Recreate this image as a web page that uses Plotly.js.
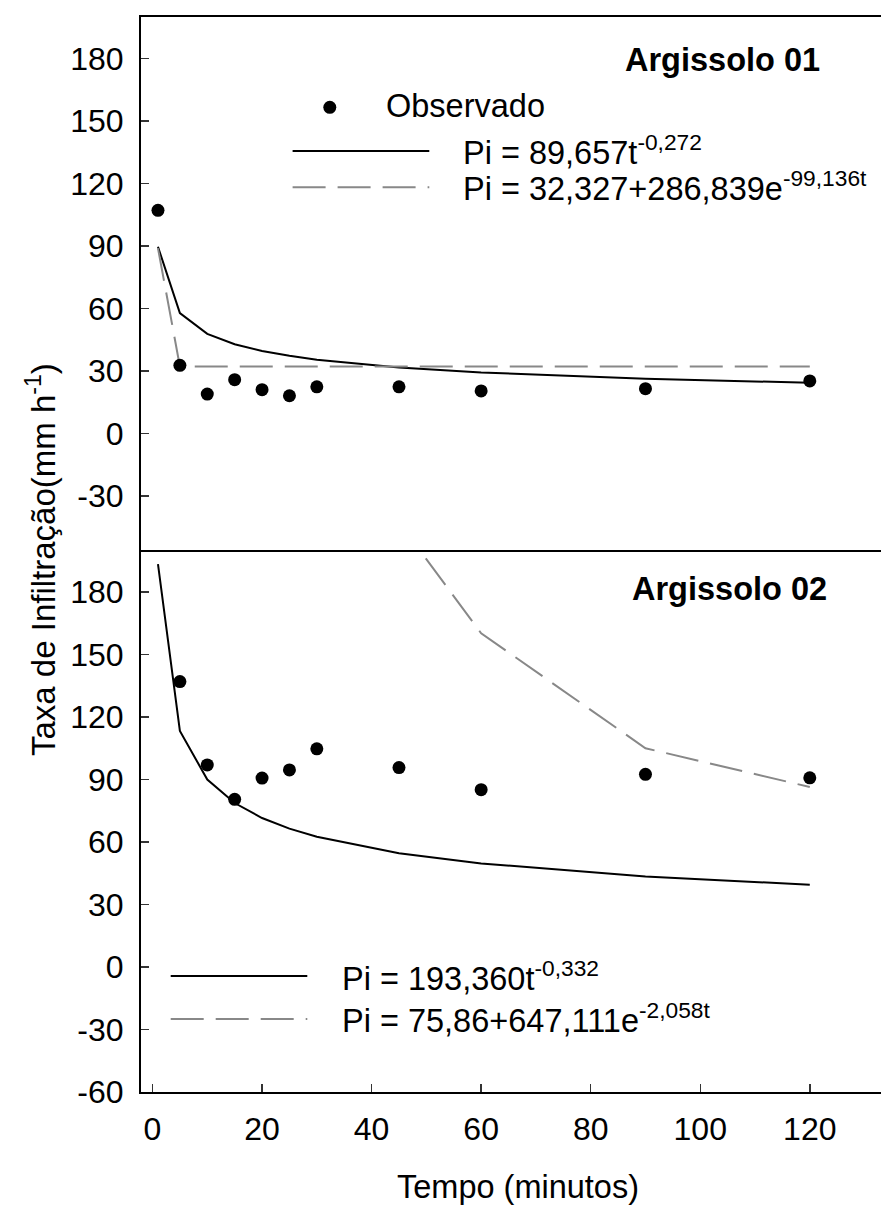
<!DOCTYPE html>
<html><head><meta charset="utf-8">
<script src="https://cdn.plot.ly/plotly-3.0.1.min.js"></script>
<style>html,body{margin:0;padding:0;background:#fff}</style>
</head><body><div id="chart" style="width:881px;height:1208px"></div>
<script>
// ---- data ----
const tempo = [1, 5, 10, 15, 20, 25, 30, 45, 60, 90, 120];
// Argissolo 01
const obs01 = [107.2, 32.8, 19.0, 25.9, 21.1, 18.2, 22.5, 22.5, 20.5, 21.6, 25.3];
const pot01 = [89.7, 57.9, 47.9, 42.9, 39.7, 37.4, 35.5, 31.8, 29.4, 26.4, 24.4];
const exp01 = [89.0, 32.3, 32.3, 32.3, 32.3, 32.3, 32.3, 32.3, 32.3, 32.3, 32.3];
// Argissolo 02
const tempoObs02 = [5, 10, 15, 20, 25, 30, 45, 60, 90, 120];
const obs02 = [137.0, 97.0, 80.5, 90.7, 94.6, 104.7, 95.7, 85.1, 92.5, 90.8];
const pot02 = [193.4, 113.3, 90.0, 78.7, 71.5, 66.4, 62.5, 54.6, 49.7, 43.4, 39.5];
const tempoExp02 = [45, 60, 90, 120];
const exp02 = [213.5, 160.2, 105.0, 86.4];
// ticks
const xTicks = [0, 20, 40, 60, 80, 100, 120];
const yTicks01 = [-30, 0, 30, 60, 90, 120, 150, 180];
const yTicks02 = [-60, -30, 0, 30, 60, 90, 120, 150, 180];
const yText01 = ['-30', '0', '30', '60', '90', '120', '150', '180'];
const yText02 = ['-60', '-30', '0', '30', '60', '90', '120', '150', '180'];
// texts
const panel01 = 'Argissolo 01';
const panel02 = 'Argissolo 02';
const legObs = 'Observado';
const eqPot01 = 'Pi = 89,657t<sup>-0,272</sup>';
const eqExp01 = 'Pi = 32,327+286,839e<sup>-99,136t</sup>';
const eqPot02 = 'Pi = 193,360t<sup>-0,332</sup>';
const eqExp02 = 'Pi = 75,86+647,111e<sup>-2,058t</sup>';
const yTitle = 'Taxa de Infiltração(mm h<sup>-1</sup>)';
const xTitle = 'Tempo (minutos)';

// ---- layout geometry ----
const W = 881, H = 1208, ML = 141, MR = 0, MT = 17, MB = 116;
const PW = W - ML - MR, PH = H - MT - MB;
const px = v => (v - ML) / PW;
const py = v => (H - MB - v) / PH;
const split = 260 / 516;
const FS = 32.5;
const FONT = '"Liberation Sans", Arial, Helvetica, sans-serif';
const BLACK = '#000000', GRAY = '#888888';
const DASH = '33px,12px';

const traces = [
  {x: tempo, y: pot01, xaxis: 'x2', yaxis: 'y2', mode: 'lines', line: {color: BLACK, width: 2}},
  {x: tempo, y: exp01, xaxis: 'x2', yaxis: 'y2', mode: 'lines', line: {color: GRAY, width: 2, dash: DASH}},
  {x: tempo, y: obs01, xaxis: 'x2', yaxis: 'y2', mode: 'markers', marker: {color: BLACK, size: 13}},
  {x: tempo, y: pot02, xaxis: 'x', yaxis: 'y', mode: 'lines', line: {color: BLACK, width: 2}},
  {x: tempoExp02, y: exp02, xaxis: 'x', yaxis: 'y', mode: 'lines', line: {color: GRAY, width: 2, dash: DASH}},
  {x: tempoObs02, y: obs02, xaxis: 'x', yaxis: 'y', mode: 'markers', marker: {color: BLACK, size: 13}}
];

const xr = [-2.1, 133.0];
const yAxisCommon = {
  tickmode: 'array', ticks: 'inside', ticklen: 8, tickwidth: 1.5, tickcolor: '#333',
  showline: true, linecolor: BLACK, linewidth: 2, showgrid: false, zeroline: false,
  tickfont: {size: 32, family: FONT, color: BLACK}, ticklabelstandoff: 9
};

function ann(text, left, baseline, extra) {
  return Object.assign({
    text: text, xref: 'paper', yref: 'paper', x: px(left - 3), y: py(baseline + 0.212 * FS + 2),
    xanchor: 'left', yanchor: 'bottom', showarrow: false,
    font: {size: FS, family: FONT, color: BLACK}
  }, extra || {});
}

const annotations = [
  ann('<b>' + panel01 + '</b>', 626, 70.7),
  ann(legObs, 387, 117),
  ann(eqPot01, 463.7, 164),
  ann(eqExp01, 463.7, 200),
  ann('<b>' + panel02 + '</b>', 633, 600),
  ann(eqPot02, 343, 990),
  ann(eqExp02, 343, 1031.7),
  {text: yTitle, xref: 'paper', yref: 'paper', x: px(41), y: py(560), xanchor: 'center', yanchor: 'middle',
   textangle: -90, showarrow: false, font: {size: 33, family: FONT, color: BLACK}},
  {text: xTitle, xref: 'paper', yref: 'paper', x: px(518), y: py(1187), xanchor: 'center', yanchor: 'middle',
   showarrow: false, font: {size: FS, family: FONT, color: BLACK}}
];

function hline(x0, x1, y, color, dash) {
  return {type: 'line', xref: 'paper', yref: 'paper', x0: px(x0), x1: px(x1), y0: py(y), y1: py(y),
          line: {color: color, width: 2, dash: dash || 'solid'}};
}
const r = 6.5;
const shapes = [
  {type: 'circle', xref: 'paper', yref: 'paper', x0: px(329.8 - r), x1: px(329.8 + r), y0: py(107.3 + r), y1: py(107.3 - r),
   fillcolor: BLACK, line: {width: 0}},
  hline(292.6, 429.3, 151, BLACK),
  hline(292.6, 429.3, 187.3, GRAY, DASH),
  hline(170.7, 307.3, 976, BLACK),
  hline(170.7, 307.3, 1019, GRAY, DASH)
];

const layout = {
  width: W, height: H,
  margin: {l: ML, r: MR, t: MT, b: MB, pad: 0},
  paper_bgcolor: '#ffffff', plot_bgcolor: '#ffffff',
  showlegend: false,
  font: {family: FONT, size: FS, color: BLACK},
  xaxis: {anchor: 'y', domain: [0, 1], range: xr, tickmode: 'array', tickvals: xTicks,
          ticks: 'inside', ticklen: 8, tickwidth: 1.5, tickcolor: '#333',
          showline: true, linecolor: BLACK, linewidth: 2, showgrid: false, zeroline: false,
          tickfont: {size: 32, family: FONT, color: BLACK}, ticklabelstandoff: 8},
  xaxis2: {anchor: 'y2', domain: [0, 1], range: xr, showline: true, mirror: true,
           linecolor: BLACK, linewidth: 2, ticks: '', showticklabels: false, showgrid: false, zeroline: false},
  yaxis: Object.assign({anchor: 'x', domain: [0, split], range: [-60, 200], tickvals: yTicks02, ticktext: yText02}, yAxisCommon),
  yaxis2: Object.assign({anchor: 'x2', domain: [split, 1], range: [-56, 200], tickvals: yTicks01, ticktext: yText01}, yAxisCommon),
  annotations: annotations,
  shapes: shapes
};

Plotly.newPlot('chart', traces, layout, {staticPlot: true, displayModeBar: false});
</script>
</body></html>
